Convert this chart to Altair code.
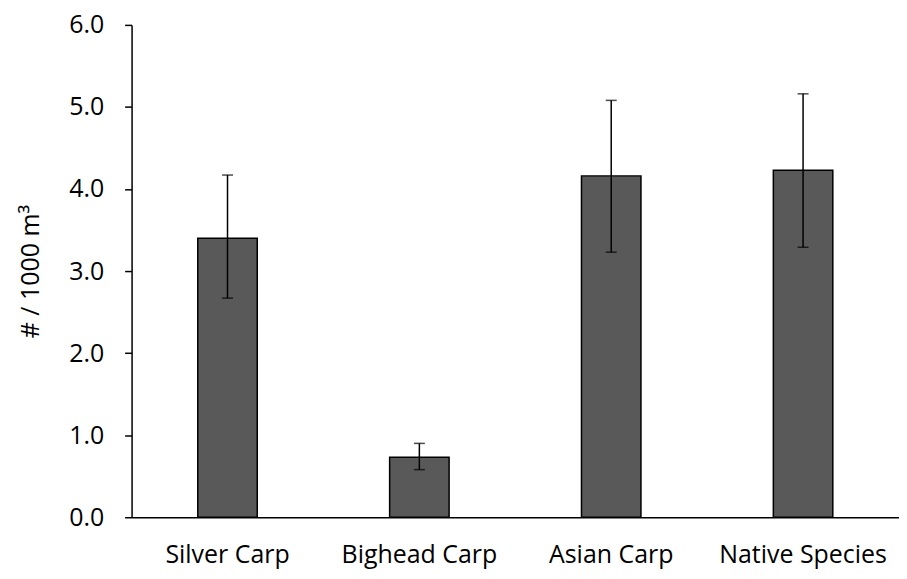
import altair as alt
import pandas as pd

categories = ["Silver Carp", "Bighead Carp", "Asian Carp", "Native Species"]
means = [3.40, 0.73, 4.16, 4.23]
err_low = [2.67, 0.58, 3.23, 3.29]
err_high = [4.17, 0.90, 5.08, 5.16]

df = pd.DataFrame({"cat": categories, "mean": means, "lo": err_low, "hi": err_high})

FONT = "Open Sans"
FS = 25
x = alt.X("cat:N", sort=categories, title=None,
          scale=alt.Scale(paddingInner=0.69, paddingOuter=0.345),
          axis=alt.Axis(labelAngle=0, labelFontSize=FS, labelFont=FONT, labelColor="black",
                        ticks=False, domainColor="black", domainWidth=1.5, labelPadding=25))
y_scale = alt.Scale(domain=[0, 6], nice=False)

bars = alt.Chart(df).mark_bar(color="#595959", stroke="black", strokeWidth=1.5).encode(
    x=x,
    y=alt.Y("mean:Q", scale=y_scale, title="# / 1000 m³",
            axis=alt.Axis(values=[0, 1, 2, 3, 4, 5, 6], format=".1f", labelFontSize=FS,
                          labelFont=FONT, labelColor="black", titleFont=FONT, titleFontSize=FS,
                          titleFontWeight="normal", titleColor="black", titlePadding=25,
                          domainColor="black", domainWidth=1.5, tickColor="black",
                          tickWidth=1.5, tickSize=7, labelPadding=21, grid=False)),
)

rules = alt.Chart(df).mark_rule(color="black", strokeWidth=1.5).encode(
    x=alt.X("cat:N", sort=categories), y=alt.Y("lo:Q", scale=y_scale), y2="hi:Q")

caps_hi = alt.Chart(df).mark_tick(color="black", thickness=1.5, size=11).encode(
    x=alt.X("cat:N", sort=categories), y=alt.Y("hi:Q", scale=y_scale))
caps_lo = alt.Chart(df).mark_tick(color="black", thickness=1.5, size=11).encode(
    x=alt.X("cat:N", sort=categories), y=alt.Y("lo:Q", scale=y_scale))

chart = alt.layer(bars, rules, caps_hi, caps_lo).properties(
    width=770, height=494,
    autosize=alt.AutoSizeParams(type="none"),
    padding={"left": 124, "top": 16, "right": 0, "bottom": 53},
    background="white",
).configure_view(stroke=None)

chart.save("out.html", embed_options={"renderer": "svg", "actions": False})
